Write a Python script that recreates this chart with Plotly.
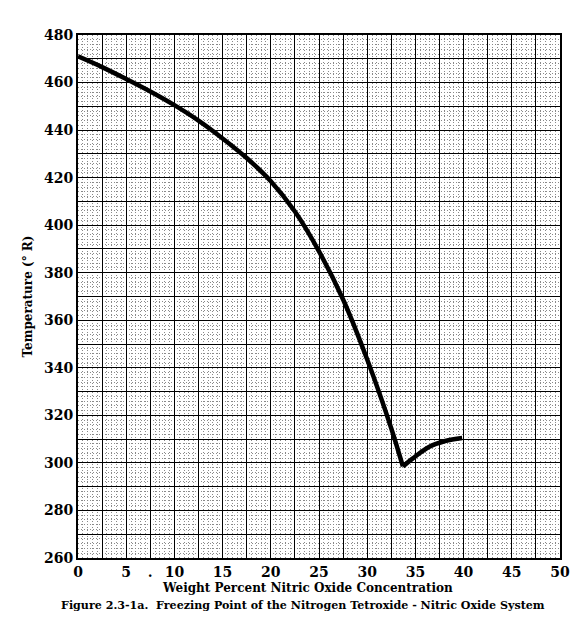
import plotly.graph_objects as go

# Data
conc_nto = [0, 2.5, 5, 7.5, 10, 12.5, 15, 17.5, 20, 22.5, 25, 27.5, 30, 32.5, 33.7]
temp_nto = [471, 466.5, 461.5, 456.25, 450.5, 444, 436.5, 428.25, 418.5, 405.75, 389, 368.75, 343.5, 314.5, 298.5]
conc_no = [33.7, 34.7, 36.4, 38.1, 39.85]
temp_no = [298.5, 301.8, 306.7, 309.2, 310.5]

x_tickvals = [i * 2.5 for i in range(21)]
x_ticktext = [str(int(v)) if v % 5 == 0 else ("." if v == 7.5 else "") for v in x_tickvals]
y_tickvals = list(range(260, 481, 10))
y_ticktext = [str(v) if v % 20 == 0 else "" for v in y_tickvals]

serif = "Century Schoolbook L, DejaVu Serif, Liberation Serif, serif"

fig = go.Figure()
fig.add_trace(go.Scatter(x=conc_nto, y=temp_nto, mode="lines",
                         line=dict(color="black", width=4.5, shape="spline", smoothing=1.0),
                         showlegend=False))
fig.add_trace(go.Scatter(x=conc_no, y=temp_no, mode="lines",
                         line=dict(color="black", width=4.5, shape="spline", smoothing=1.0),
                         showlegend=False))

fig.update_layout(
    width=584, height=634,
    margin=dict(l=78, r=24, t=35, b=76),
    plot_bgcolor="white", paper_bgcolor="white",
    font=dict(family=serif, color="black"),
    annotations=[
        dict(text="<b>Weight Percent Nitric Oxide Concentration</b>",
             x=(307 - 78) / 482, y=-0.057, xref="paper", yref="paper", showarrow=False,
             yanchor="middle", font=dict(size=12, family=serif, color="black")),
        dict(text="<b>Figure 2.3-1a.  Freezing Point of the Nitrogen Tetroxide - Nitric Oxide System</b>",
             x=(303 - 78) / 482, y=-0.091, xref="paper", yref="paper", showarrow=False,
             yanchor="middle", font=dict(size=11.1, family=serif, color="black")),
    ],
)
fig.update_xaxes(
    range=[0, 50], tickvals=x_tickvals, ticktext=x_ticktext,
    showgrid=True, gridcolor="black", gridwidth=1.3,
    minor=dict(dtick=0.5, showgrid=True, gridcolor="#8a8a8a", griddash="1px,2px", gridwidth=1),
    showline=True, linecolor="black", linewidth=2, mirror=True,
    ticks="", zeroline=False,
    tickfont=dict(size=14, family=serif, color="black", weight="bold"),
)
fig.update_yaxes(
    range=[260, 480], tickvals=y_tickvals, ticktext=y_ticktext,
    showgrid=True, gridcolor="black", gridwidth=1.3,
    minor=dict(dtick=2, showgrid=True, gridcolor="#8a8a8a", griddash="1px,2px", gridwidth=1),
    showline=True, linecolor="black", linewidth=2, mirror=True,
    ticks="", zeroline=False,
    tickfont=dict(size=14, family=serif, color="black", weight="bold"),
    title=dict(text="<b>Temperature (° R)</b>", standoff=9,
               font=dict(size=12, family=serif, color="black")),
)

fig.write_html("out.html")
